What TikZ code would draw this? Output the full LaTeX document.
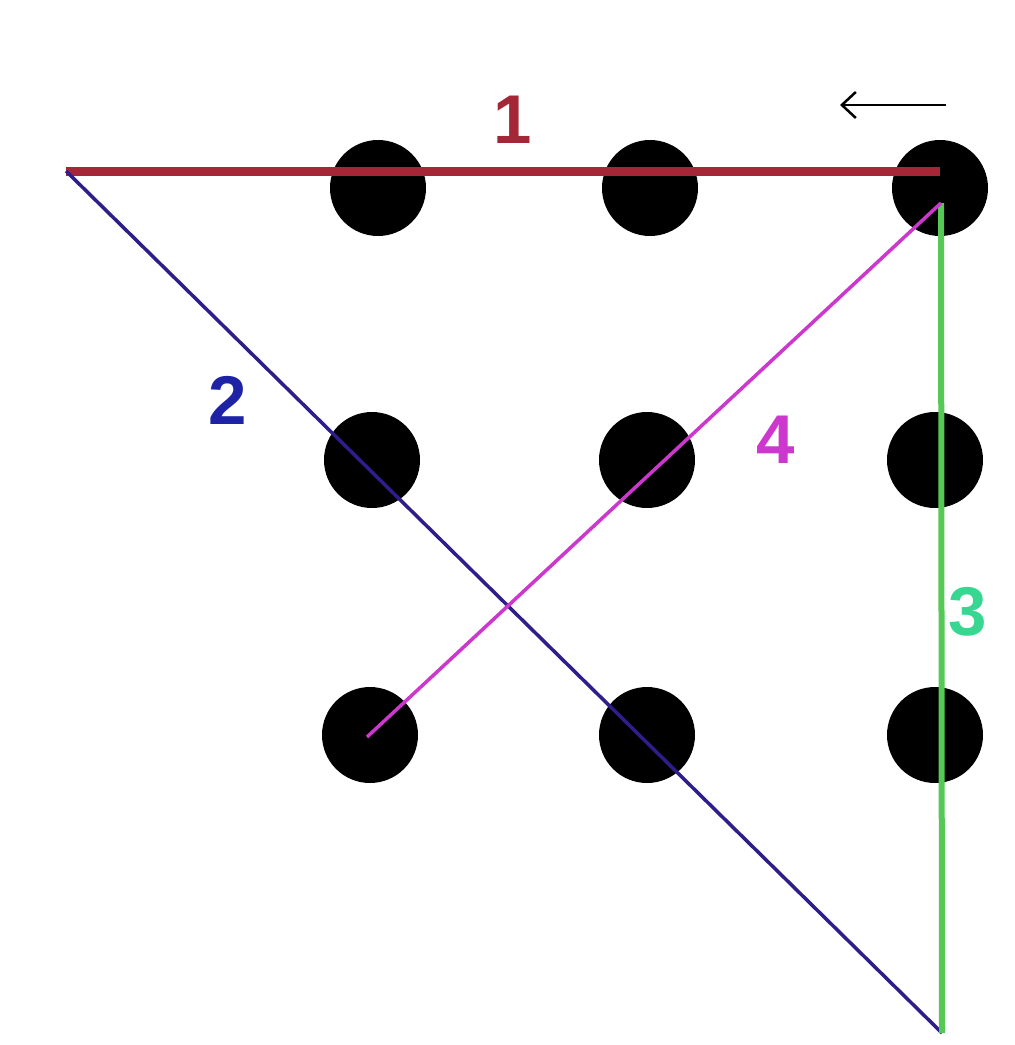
\documentclass[tikz,border=0pt]{standalone}
\usepackage{fontspec}
\setmainfont{Liberation Sans}
\usetikzlibrary{arrows.meta}
\definecolor{cred}{RGB}{165,38,55}
\definecolor{cblue}{RGB}{45,30,140}
\definecolor{cbluetxt}{RGB}{30,35,165}
\definecolor{cgreen}{RGB}{85,200,85}
\definecolor{cteal}{RGB}{55,215,145}
\definecolor{cmag}{RGB}{205,55,205}
\begin{document}
\begin{tikzpicture}[x=1pt,y=-1pt,
  dot/.style={circle,fill=black,inner sep=0pt,minimum size=96pt},
  lbl/.style={font=\fontsize{69}{69}\selectfont\bfseries,inner sep=0pt}]
\fill[white] (0,0) rectangle (1015,1045);
\useasboundingbox (0,0) rectangle (1015,1045);
% dots
\node[dot] (d11) at (378,188) {};
\node[dot] (d12) at (650,188) {};
\node[dot] (d13) at (940,188) {};
\node[dot] (d21) at (372,460) {};
\node[dot] (d22) at (647,460) {};
\node[dot] (d23) at (935,460) {};
\node[dot] (d31) at (370,735) {};
\node[dot] (d32) at (647,735) {};
\node[dot] (d33) at (935,735) {};
% path points
\coordinate (A) at (66,171);
\coordinate (B) at (940,171);
\coordinate (C) at (941,203);
\coordinate (D) at (942,1033);
\coordinate (E) at (367,737);
% lines
\draw[cred,line width=9pt] (A) -- (B);
\draw[cblue,line width=3.5pt] (A) -- (D);
\draw[cgreen,line width=6pt] (C) -- (D);
\draw[cmag,line width=3.5pt] (C) -- (E);
% labels
\node[lbl,text=cred] (l1) at (513,120) {1};
\node[lbl,text=cbluetxt] (l2) at (228,400) {2};
\node[lbl,text=cteal] (l3) at (968,612) {3};
\node[lbl,text=cmag] (l4) at (776,440) {4};
% arrow
\coordinate (ar1) at (946,105);
\coordinate (ar2) at (840,105);
\draw[black,line width=2.5pt,-{Straight Barb[length=14pt,width=26pt,line width=2.5pt]}] (ar1) -- (ar2);
\end{tikzpicture}
\end{document}
